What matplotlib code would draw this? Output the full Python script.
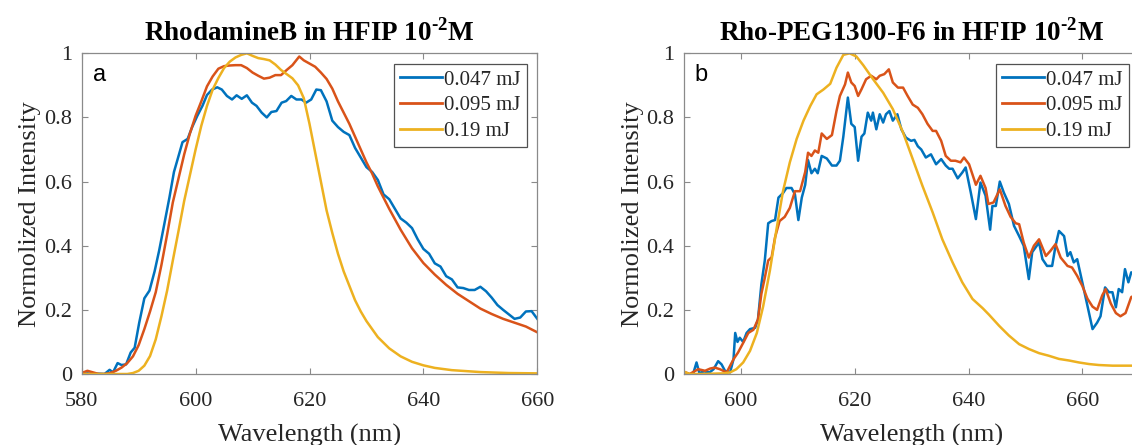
import matplotlib
matplotlib.use("Agg")
import matplotlib.pyplot as plt

# ---------------- data ----------------
series_labels = ["0.047 mJ", "0.095 mJ", "0.19 mJ"]
series_colors = ["#0072BD", "#D95319", "#EDB120"]

titles = ["RhodamineB in HFIP 10$^{\\mathbf{\u20102}}$M",
          "Rho-PEG1300-F6 in HFIP 10$^{\\mathbf{\u20102}}$M"]
panel_tags = ["a", "b"]
x_label = "Wavelength (nm)"
y_label = "Normolized Intensity"

xlims = [(580, 660), (590, 670)]
xticks = [[580, 600, 620, 640, 660], [600, 620, 640, 660]]
yticks = [0, 0.2, 0.4, 0.6, 0.8, 1]
ytick_labels = ["0", "0.2", "0.4", "0.6", "0.8", "1"]

# Panel a : RhodamineB
a_low = [(580, 0.0), (581, 0.002), (582, 0.0), (583, 0.001), (584, 0.0), (584.9, 0.013),
         (585.5, 0.005), (586.3, 0.034), (587, 0.028), (587.8, 0.03), (588.6, 0.067),
         (589.3, 0.082), (590.1, 0.16), (591, 0.236), (591.9, 0.26), (592.8, 0.32),
         (593.6, 0.385), (594.5, 0.467), (595.4, 0.55), (596.2, 0.63), (596.8, 0.667),
         (597.7, 0.723), (598.6, 0.733), (599.4, 0.77), (600.3, 0.805), (601.2, 0.836),
         (602, 0.87), (602.9, 0.887), (603.8, 0.894), (604.6, 0.887), (605.5, 0.867),
         (606.4, 0.856), (607.2, 0.869), (608.1, 0.858), (609, 0.869), (609.9, 0.846),
         (610.7, 0.836), (611.6, 0.815), (612.5, 0.80), (613.3, 0.817), (614.2, 0.82),
         (615.1, 0.846), (615.9, 0.851), (616.8, 0.867), (617.7, 0.856), (618.6, 0.856),
         (619.4, 0.846), (620.3, 0.856), (621.2, 0.887), (622, 0.885), (623, 0.85),
         (624, 0.79), (625, 0.77), (626, 0.755), (627, 0.745), (628, 0.705), (629, 0.675),
         (630, 0.645), (631, 0.63), (632, 0.605), (633, 0.56), (634, 0.545), (635, 0.515),
         (636, 0.485), (637, 0.472), (638, 0.455), (639, 0.42), (640, 0.39), (641, 0.375),
         (642, 0.345), (643, 0.335), (644, 0.305), (645, 0.295), (646, 0.27), (647, 0.268),
         (648, 0.262), (649, 0.262), (650, 0.272), (651, 0.258), (652, 0.238), (653, 0.215),
         (654, 0.2), (655, 0.186), (656, 0.172), (657, 0.176), (658, 0.195), (659, 0.196),
         (660, 0.172)]

a_mid = [(580, 0.003), (581, 0.01), (582, 0.005), (583, 0.0), (584, 0.0), (585, 0.003),
         (586, 0.01), (587, 0.02), (588, 0.034), (589, 0.055), (590, 0.09), (591, 0.14),
         (592, 0.195), (593, 0.255), (594, 0.34), (595, 0.435), (596, 0.535), (597, 0.61),
         (598, 0.685), (599, 0.75), (600, 0.805), (601, 0.85), (602, 0.897), (603, 0.928),
         (604, 0.952), (605, 0.96), (606, 0.962), (607, 0.963), (608, 0.963), (609, 0.954),
         (610, 0.94), (611, 0.93), (612, 0.921), (613, 0.924), (614, 0.932), (615, 0.932),
         (616, 0.948), (617, 0.963), (618.2, 0.99), (619, 0.978), (620, 0.968), (621, 0.958),
         (622, 0.94), (623, 0.92), (624, 0.89), (625, 0.85), (626, 0.815), (627, 0.78),
         (628, 0.74), (629, 0.70), (630, 0.66), (631, 0.625), (632, 0.585), (633, 0.55),
         (634, 0.515), (636, 0.45), (638, 0.392), (640, 0.346), (642, 0.31), (644, 0.278),
         (646, 0.25), (648, 0.227), (650, 0.204), (652, 0.187), (654, 0.172), (656, 0.16),
         (658, 0.148), (660, 0.13)]

a_high = [(580, 0.0), (585, 0.0), (588, 0.0), (589, 0.003), (590, 0.01), (591, 0.026),
          (592, 0.056), (593, 0.108), (594, 0.18), (595, 0.26), (596, 0.354), (597, 0.446),
          (598, 0.54), (599, 0.62), (600, 0.70), (601, 0.774), (602, 0.836), (603, 0.887),
          (604, 0.923), (605, 0.954), (606, 0.974), (607, 0.987), (608, 0.995), (609, 1.0),
          (610, 0.992), (611, 0.985), (612, 0.982), (613, 0.978), (614, 0.965), (615, 0.948),
          (616, 0.935), (617, 0.922), (618, 0.90), (619, 0.86), (620, 0.78), (621, 0.69),
          (622, 0.60), (623, 0.51), (624, 0.44), (625, 0.375), (626, 0.32), (627, 0.275),
          (628, 0.23), (629, 0.195), (630, 0.165), (632, 0.115), (634, 0.08), (636, 0.055),
          (638, 0.038), (640, 0.027), (642, 0.019), (645, 0.012), (650, 0.006), (655, 0.003),
          (660, 0.002)]

# Panel b : Rho-PEG1300-F6
b_low = [(591.6, 0.0), (592.2, 0.036), (592.7, 0.003), (593.5, 0.008), (594.5, 0.005),
         (595.2, 0.015), (596, 0.04), (596.6, 0.03), (597.2, 0.01), (598.1, 0.005),
         (598.7, 0.046), (599, 0.128), (599.4, 0.10), (599.8, 0.113), (600.4, 0.10),
         (601, 0.128), (601.6, 0.14), (602.5, 0.144), (603, 0.17), (603.6, 0.28),
         (604.2, 0.354), (604.8, 0.47), (605.4, 0.477), (606, 0.48), (606.6, 0.55),
         (607.4, 0.564), (608, 0.58), (608.9, 0.58), (609.5, 0.56), (610.1, 0.48),
         (610.7, 0.55), (611.3, 0.59), (611.8, 0.667), (612.4, 0.626), (613, 0.64),
         (613.5, 0.626), (614.2, 0.68), (615.1, 0.672), (616, 0.65), (616.8, 0.65),
         (617.4, 0.665), (618, 0.74), (618.8, 0.862), (619.4, 0.78), (620, 0.77),
         (620.6, 0.665), (621.2, 0.74), (621.7, 0.75), (622.3, 0.815), (622.9, 0.79),
         (623.2, 0.815), (623.8, 0.763), (624.4, 0.81), (625, 0.784), (625.5, 0.81),
         (626.1, 0.82), (626.7, 0.79), (627.5, 0.81), (628.2, 0.763), (629, 0.737),
         (629.9, 0.727), (630.5, 0.73), (631.1, 0.71), (631.7, 0.70), (632.5, 0.675),
         (633.4, 0.685), (634.3, 0.654), (635.2, 0.67), (636, 0.65), (636.6, 0.64),
         (637.2, 0.64), (638.1, 0.61), (638.9, 0.628), (639.5, 0.644), (640.4, 0.566),
         (641.3, 0.483), (642.1, 0.597), (643, 0.556), (643.8, 0.45), (644.2, 0.524),
         (644.8, 0.524), (645.5, 0.60), (646.2, 0.566), (647.1, 0.53), (648, 0.462),
         (648.9, 0.43), (649.7, 0.40), (650.6, 0.296), (651.2, 0.38), (651.8, 0.395),
         (652.4, 0.41), (653, 0.358), (653.8, 0.337), (654.7, 0.337), (655.3, 0.40),
         (655.9, 0.446), (656.8, 0.43), (657.4, 0.368), (657.9, 0.38), (658.5, 0.348),
         (659.1, 0.358), (660, 0.286), (660.9, 0.213), (661.8, 0.14), (662.6, 0.16),
         (663.2, 0.18), (664, 0.27), (664.7, 0.255), (665.3, 0.255), (665.9, 0.208),
         (666.4, 0.265), (667, 0.255), (667.5, 0.327), (668.1, 0.286), (668.6, 0.317),
         (670, 0.30)]

b_mid = [(590, 0.007), (591, 0.0), (592.5, 0.015), (593.7, 0.01), (594.6, 0.017),
         (595.4, 0.02), (596.3, 0.015), (597.5, 0.005), (598.7, 0.046), (599.5, 0.067),
         (600.4, 0.097), (601.3, 0.128), (602.2, 0.138), (603, 0.17), (603.6, 0.25),
         (604.2, 0.30), (604.8, 0.354), (605.4, 0.364), (606, 0.426), (606.8, 0.477),
         (607.7, 0.49), (608.6, 0.518), (609.5, 0.57), (610.4, 0.57), (611.3, 0.63),
         (611.8, 0.69), (612.4, 0.68), (613, 0.697), (613.6, 0.69), (614.2, 0.75),
         (615.1, 0.733), (616, 0.745), (616.8, 0.82), (617.4, 0.867), (618.3, 0.903),
         (618.8, 0.94), (619.4, 0.909), (620, 0.898), (620.6, 0.867), (621.2, 0.888),
         (622, 0.919), (622.9, 0.93), (623.8, 0.919), (624.4, 0.93), (625.2, 0.935),
         (626, 0.95), (626.7, 0.909), (627.6, 0.893), (628.5, 0.893), (629.3, 0.867),
         (630.2, 0.84), (631.1, 0.83), (631.9, 0.81), (632.8, 0.78), (633.7, 0.758),
         (634.3, 0.758), (635.2, 0.727), (636, 0.68), (636.9, 0.665), (637.7, 0.665),
         (638.6, 0.66), (639.2, 0.675), (640.1, 0.654), (641.3, 0.59), (642.1, 0.618),
         (643, 0.58), (643.5, 0.53), (644.4, 0.535), (645.5, 0.576), (646.5, 0.524),
         (647.4, 0.49), (648.3, 0.47), (648.9, 0.467), (649.7, 0.41), (650.6, 0.363),
         (651.5, 0.40), (652.4, 0.42), (653.6, 0.368), (654.4, 0.384), (655.3, 0.405),
         (656.2, 0.363), (657.4, 0.337), (658.2, 0.332), (659.1, 0.306), (660, 0.275),
         (660.9, 0.235), (661.8, 0.21), (662.6, 0.2), (663.5, 0.245), (664.1, 0.265),
         (665, 0.22), (665.9, 0.19), (666.7, 0.18), (667.6, 0.19), (668.6, 0.24), (670, 0.25)]

b_high = [(590, 0.007), (591, 0.0), (593, 0.0), (595, 0.001), (597, 0.002), (598.1, 0.005),
          (599.2, 0.015), (600.4, 0.036), (601.6, 0.072), (602.8, 0.128), (603.9, 0.21),
          (605.1, 0.323), (606.3, 0.456), (607.4, 0.57), (608.6, 0.66), (609.8, 0.733),
          (611, 0.79), (612.2, 0.836), (613.3, 0.872), (614.5, 0.887), (615.7, 0.905),
          (616.8, 0.955), (618, 0.995), (619.1, 1.0), (620.3, 0.99), (621.5, 0.963),
          (623.2, 0.92), (625, 0.877), (626.7, 0.826), (628.5, 0.753), (630.2, 0.67),
          (631.9, 0.587), (633.7, 0.504), (635.4, 0.42), (637.2, 0.348), (638.9, 0.286),
          (640.7, 0.234), (642.5, 0.205), (643.6, 0.185), (645.4, 0.15), (647.1, 0.12),
          (648.9, 0.093), (650.6, 0.078), (652.4, 0.065), (654.1, 0.057), (655.9, 0.047),
          (657.7, 0.042), (659.4, 0.036), (661.2, 0.031), (662.9, 0.028), (665.3, 0.026),
          (668.6, 0.026), (670, 0.026)]

panels = [[a_low, a_mid, a_high], [b_low, b_mid, b_high]]

# ---------------- style ----------------
plt.rcParams['font.family'] = ['Liberation Serif', 'DejaVu Serif']
plt.rcParams['mathtext.fontset'] = 'custom'
plt.rcParams['mathtext.rm'] = 'Liberation Serif'
plt.rcParams['mathtext.bf'] = 'Liberation Serif:bold'

W, H = 1132, 445
fig = plt.figure(figsize=(W / 100, H / 100), dpi=100)

axes_px = [(81.7, 53.3, 455.6, 320.7), (684.0, 53.3, 455.2, 320.7)]
spine_col = "#8a8a8a"
text_col = "#262626"

for i, (l, t, w, h) in enumerate(axes_px):
    ax = fig.add_axes([l / W, (H - t - h) / H, w / W, h / H])
    for data, lab, col in zip(panels[i], series_labels, series_colors):
        xs = [p[0] for p in data]
        ys = [p[1] for p in data]
        ax.plot(xs, ys, color=col, lw=1.8, label=lab)
    ax.set_xlim(*xlims[i])
    ax.set_ylim(0, 1)
    ax.set_xticks(xticks[i])
    ax.set_yticks(yticks)
    ax.set_yticklabels(ytick_labels)
    for s in ax.spines.values():
        s.set_color(spine_col)
        s.set_linewidth(0.9)
    ax.tick_params(direction='in', top=True, right=True, length=4, width=0.8,
                   color=spine_col, labelcolor=text_col, labelsize=16)
    ax.tick_params(axis='x', pad=13)
    ax.tick_params(axis='y', pad=7)
    ax.set_xlabel(x_label, fontsize=19, color=text_col, labelpad=9)
    ax.set_ylabel(y_label, fontsize=19, color=text_col, labelpad=2)
    ax.set_title(titles[i], fontsize=19.5, fontweight='bold', color='black', pad=9)
    ax.text(0.024, 0.915, panel_tags[i], transform=ax.transAxes, fontsize=17,
            family='Liberation Sans', color='black', va='baseline', ha='left')
    leg = ax.legend(loc='upper right', fontsize=15, frameon=True, fancybox=False,
                    handlelength=2.0, handletextpad=0.1, borderpad=0.3,
                    labelspacing=0.3, borderaxespad=0.5)
    leg.get_frame().set_edgecolor(text_col)
    leg.get_frame().set_linewidth(0.9)
    for t_ in leg.get_texts():
        t_.set_color(text_col)
    for ln in leg.get_lines():
        ln.set_linewidth(2.0)

fig.savefig("out.png", dpi=100)
